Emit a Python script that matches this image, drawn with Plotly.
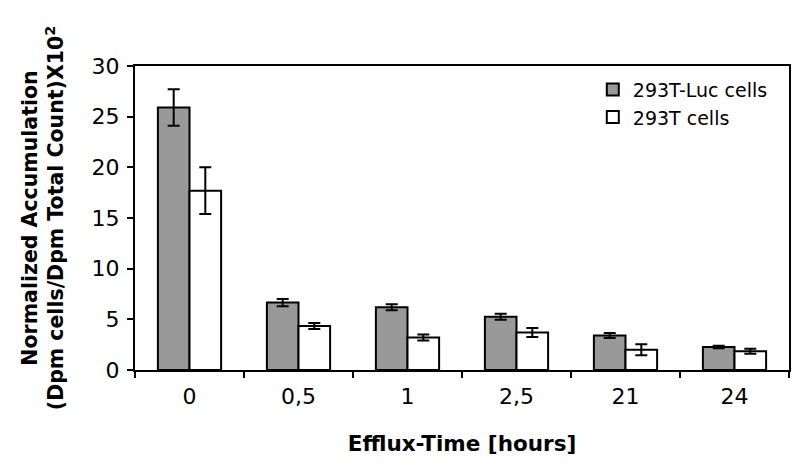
import plotly.graph_objects as go

# efflux time categories and measured accumulation (x10^2)
times = ["0", "0,5", "1", "2,5", "21", "24"]
luc_values = [25.9, 6.65, 6.2, 5.25, 3.4, 2.27]
luc_errors = [1.8, 0.35, 0.3, 0.3, 0.25, 0.12]
wt_values = [17.7, 4.35, 3.2, 3.7, 2.0, 1.85]
wt_errors = [2.3, 0.3, 0.3, 0.45, 0.55, 0.25]
y_ticks = [0, 5, 10, 15, 20, 25, 30]

font_family = "DejaVu Sans, Arial, sans-serif"

fig = go.Figure()
fig.add_trace(go.Bar(
    x=times, y=luc_values, name="293T-Luc cells",
    marker=dict(color="#999999", line=dict(color="black", width=2)),
    error_y=dict(type="data", array=luc_errors, color="black", thickness=2, width=6),
))
fig.add_trace(go.Bar(
    x=times, y=wt_values, name="293T cells",
    marker=dict(color="white", line=dict(color="black", width=2)),
    error_y=dict(type="data", array=wt_errors, color="black", thickness=2, width=6),
))

# the page body adds an 8px offset, so margins are shifted by that amount
fig.update_layout(
    width=800, height=464,
    margin=dict(l=127, r=19, t=58, b=102),
    paper_bgcolor="white", plot_bgcolor="white",
    barmode="group", bargap=0.42, bargroupgap=0,
    font=dict(family=font_family, color="black", size=22),
    legend=dict(x=0.70, y=0.985, xanchor="left", yanchor="top",
                bgcolor="rgba(0,0,0,0)", font=dict(size=19)),
    xaxis=dict(
        automargin=False,
        showline=True, linecolor="black", linewidth=2, mirror=True,
        ticks="outside", tickson="boundaries", ticklen=6, tickcolor="black", tickwidth=1.5,
        tickfont=dict(size=22), ticklabelstandoff=6,
        title=dict(text="<b>Efflux-Time [hours]</b>", font=dict(size=21.5), standoff=28),
    ),
    yaxis=dict(
        automargin=False,
        range=[0, 30], tickvals=y_ticks,
        showline=True, linecolor="black", linewidth=2, mirror=True,
        ticks="outside", ticklen=6, tickcolor="black", tickwidth=1.5,
        showgrid=False, zeroline=False,
        tickfont=dict(size=22), ticklabelstandoff=3,
        title=dict(text="<b>Normalized Accumulation<br>(Dpm cells/Dpm Total Count)X10<sup>2</sup></b>",
                   font=dict(size=20.5), standoff=22),
    ),
)

fig.write_html("out.html")
